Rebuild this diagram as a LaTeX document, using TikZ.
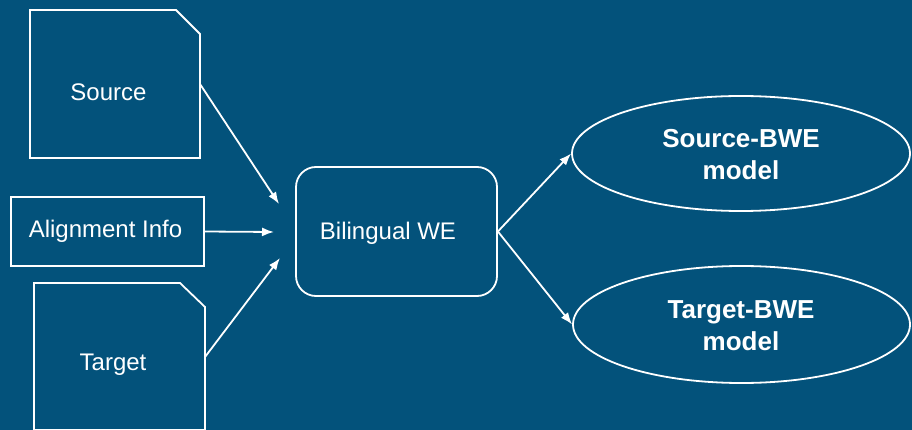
\documentclass[tikz,border=0pt]{standalone}
\usepackage{fontspec}
\setmainfont{Liberation Sans}
\usetikzlibrary{shapes.geometric,arrows.meta}
\definecolor{bg}{RGB}{3,82,123}
\tikzset{
  line/.style={draw=white, line width=1.8pt},
  conn/.style={white, line width=1.8pt, -{Latex[length=12pt,width=9pt]}},
  txt/.style={text=white, font=\fontsize{24}{28}\selectfont, inner sep=0pt},
  btxt/.style={text=white, font=\fontsize{26}{32}\selectfont\bfseries, align=center, inner sep=0pt},
}
\begin{document}
\begin{tikzpicture}[x=1pt,y=-1pt]
\fill[bg] (0,0) rectangle (912,430);
\useasboundingbox (0,0) rectangle (912,430);
% Source document
\draw[line] (30,10) -- (176,10) -- (200,34) -- (200,158) -- (30,158) -- cycle;
\node[txt] (src) at (108.5,92) {Source};
\coordinate (srcout) at (200,84);
% Alignment Info
\node[line, minimum width=193pt, minimum height=69pt, inner sep=0pt] (align) at (107.5,231.5) {};
\node[txt] (aligntxt) at (105.5,231) {Alignment Info};
% Target document
\draw[line] (34,283) -- (180,283) -- (205,307) -- (205,430) -- (34,430) -- cycle;
\node[txt] (tgt) at (113,365) {Target};
\coordinate (tgtout) at (205,357);
% Bilingual WE
\node[line, rounded corners=20pt, minimum width=201pt, minimum height=129pt, inner sep=0pt] (bwe) at (396.5,231.5) {};
\node[txt] (bwetxt) at (388,233) {Bilingual WE};
\coordinate (in1) at (279,204);
\coordinate (in2) at (274,232);
\coordinate (in3) at (280,258);
% Ellipses
\node[line, ellipse, minimum width=338pt, minimum height=115pt, inner sep=0pt] (e1) at (741,153.5) {};
\node[btxt] (e1txt) at (741,155) {Source-BWE\\model};
\node[line, ellipse, minimum width=337pt, minimum height=117pt, inner sep=0pt] (e2) at (741.5,324.5) {};
\node[btxt] (e2txt) at (741,326) {Target-BWE\\model};
% connectors
\draw[conn] (srcout) -- (in1);
\draw[conn] (align.east) -- (in2);
\draw[conn] (tgtout) -- (in3);
\draw[conn] (bwe.east) -- (e1.west);
\draw[conn] (bwe.east) -- (e2.west);
\end{tikzpicture}
\end{document}
